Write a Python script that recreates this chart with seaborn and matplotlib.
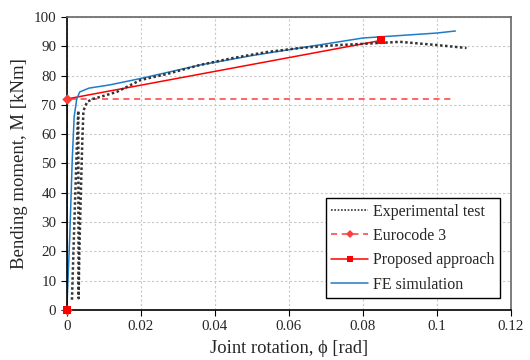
import matplotlib
matplotlib.use("Agg")
import matplotlib.pyplot as plt
from matplotlib.lines import Line2D
import seaborn as sns
import pandas as pd

# Experimental test (loading, unloading, reloading)
exp_x = [0.0014, 0.0020, 0.0027, 0.0031, 0.0032, 0.0034, 0.0038, 0.0042, 0.0045, 0.0055,
         0.0070, 0.0090, 0.0135, 0.0200, 0.0270, 0.0360, 0.0450, 0.0540, 0.0630, 0.0720,
         0.0800, 0.0900, 0.1000, 0.1080]
exp_y = [3.5, 28.0, 55.0, 68.0, 4.0, 20.0, 40.0, 58.0, 68.0, 71.0,
         72.0, 72.7, 74.4, 78.5, 80.5, 83.6, 86.0, 88.0, 89.4, 90.3,
         90.8, 91.5, 90.4, 89.4]

# Eurocode 3
ec3_x = [0.0, 0.0, 0.105]
ec3_y = [0.0, 72.0, 72.0]
ec3_mark_x = [0.0, 0.0]
ec3_mark_y = [0.0, 72.0]

# Proposed approach
prop_x = [0.0, 0.0, 0.085]
prop_y = [0.0, 72.0, 92.0]
prop_mark_x = [0.0, 0.085]
prop_mark_y = [0.0, 92.0]

# FE simulation
fe_x = [0.0, 0.0008, 0.0015, 0.0020, 0.0027, 0.0035, 0.0060, 0.0116, 0.0200, 0.0360,
        0.0500, 0.0630, 0.0800, 0.1000, 0.1050]
fe_y = [0.0, 25.0, 52.0, 66.0, 72.0, 74.4, 75.7, 76.8, 79.0, 83.6,
        86.8, 89.4, 92.8, 94.5, 95.2]

x_ticks = [0, 0.02, 0.04, 0.06, 0.08, 0.1, 0.12]
x_tick_labels = ["0", "0.02", "0.04", "0.06", "0.08", "0.1", "0.12"]
y_ticks = [0, 10, 20, 30, 40, 50, 60, 70, 80, 90, 100]

sns.set_style("white")
plt.rcParams["font.family"] = ["Liberation Serif", "DejaVu Serif"]

EC3_C = "#ff3b3b"
PROP_C = "#ff0000"
FE_C = "#1f7cc8"
EXP_C = "#333333"
EC3_LS = (0, (4, 3))
EXP_LS = (0, (1, 1))

fig = plt.figure(figsize=(5.3, 3.6), dpi=100)
ax = fig.add_axes([0.126, 0.139, 0.838, 0.814])

df_exp = pd.DataFrame({"x": exp_x, "y": exp_y})
df_ec3 = pd.DataFrame({"x": ec3_x, "y": ec3_y})
df_prop = pd.DataFrame({"x": prop_x, "y": prop_y})
df_fe = pd.DataFrame({"x": fe_x, "y": fe_y})

sns.lineplot(data=df_ec3, x="x", y="y", sort=False, estimator=None, ax=ax,
             color=EC3_C, linestyle=EC3_LS, linewidth=1.1)
sns.lineplot(data=df_prop, x="x", y="y", sort=False, estimator=None, ax=ax,
             color=PROP_C, linewidth=1.1)
sns.lineplot(data=df_fe, x="x", y="y", sort=False, estimator=None, ax=ax,
             color=FE_C, linewidth=1.1)
sns.lineplot(data=df_exp, x="x", y="y", sort=False, estimator=None, ax=ax,
             color=EXP_C, linestyle=EXP_LS, linewidth=1.8)
sns.scatterplot(x=ec3_mark_x, y=ec3_mark_y, ax=ax, color=EC3_C, marker="D",
                s=28, linewidth=0, zorder=5, clip_on=False)
sns.scatterplot(x=prop_mark_x, y=prop_mark_y, ax=ax, color=PROP_C, marker="s",
                s=28, linewidth=0, zorder=5, clip_on=False)

ax.set_xlim(0, 0.12)
ax.set_ylim(0, 100)
ax.set_xticks(x_ticks)
ax.set_xticklabels(x_tick_labels)
ax.set_yticks(y_ticks)
ax.grid(True, color="#c8c8c8", linestyle=(0, (2, 2)), linewidth=0.8)
ax.set_axisbelow(True)
for s in ["left", "bottom"]:
    ax.spines[s].set_color("black")
    ax.spines[s].set_linewidth(1.2)
for s in ["top", "right"]:
    ax.spines[s].set_color("#666666")
    ax.spines[s].set_linewidth(1.2)
ax.tick_params(axis="both", labelsize=10.8, length=4, direction="out",
               left=True, bottom=True, color="black")
ax.set_xlabel("Joint rotation, \u03d5 [rad]", fontsize=13.3, labelpad=5)
ax.set_ylabel("Bending moment, M [kNm]", fontsize=13.5, labelpad=4)

handles = [
    Line2D([0, 1], [0, 0], color=EXP_C, linestyle=EXP_LS, linewidth=1.2),
    Line2D([0, 1], [0, 0], color=EC3_C, linestyle=EC3_LS, linewidth=1.1,
           marker="D", markersize=4.5, markeredgewidth=0),
    Line2D([0, 1], [0, 0], color=PROP_C, linewidth=1.1,
           marker="s", markersize=4.5, markeredgewidth=0),
    Line2D([0, 1], [0, 0], color=FE_C, linewidth=1.1),
]
labels = ["Experimental test", "Eurocode 3", "Proposed approach", "FE simulation"]
leg = ax.legend(handles, labels,
                loc="lower right", bbox_to_anchor=(0.975, 0.04), fontsize=11.5,
                frameon=True, fancybox=False, edgecolor="black", framealpha=1,
                handlelength=2.3, borderpad=0.35, labelspacing=0.52,
                handletextpad=0.3, borderaxespad=0.0, numpoints=1)
leg.get_frame().set_linewidth(1.0)

fig.savefig("out.png", dpi=100)
